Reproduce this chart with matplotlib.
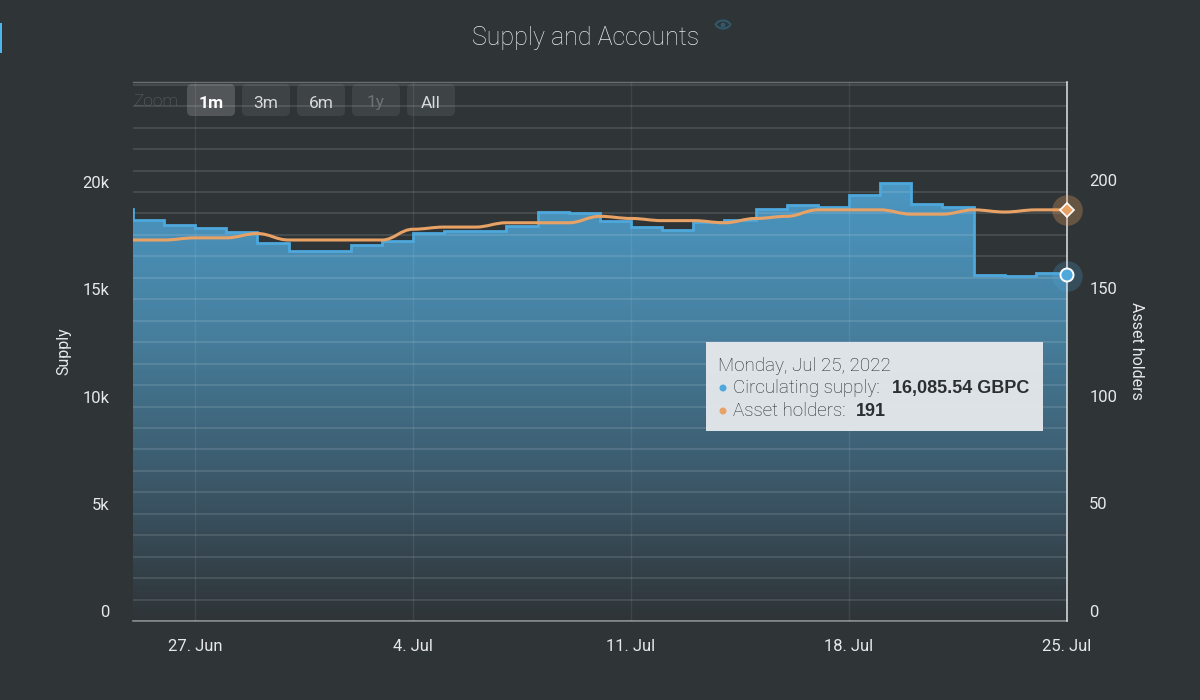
import numpy as np
import pandas as pd
import matplotlib
matplotlib.use('Agg')
import matplotlib.pyplot as plt
import matplotlib.dates as mdates
from matplotlib.colors import LinearSegmentedColormap
from matplotlib.patches import FancyBboxPatch, PathPatch, Rectangle, Circle, Arc
from matplotlib.path import Path
from matplotlib.transforms import ScaledTranslation

# data
start_date = '2022-06-24'
supply = [19200, 18690, 18460, 18320, 18130, 17620, 17250, 17250, 17530, 17720,
          18070, 18180, 18200, 18400, 19070, 19020, 18650, 18370, 18230, 18580,
          18680, 19200, 19400, 19280, 19860, 20430, 19440, 19280, 16140, 16080,
          16220, 16085.54]
holders = [177, 177, 178, 178, 180, 177, 177, 177, 177, 182, 183, 183, 185, 185, 185,
           188, 187, 186, 186, 185, 187, 188, 191, 191, 191, 189, 189, 191, 190, 191, 191]
supply_ticks = [0, 5000, 10000, 15000, 20000]
supply_labels = ['0', '5k', '10k', '15k', '20k']
holder_ticks = [0, 50, 100, 150, 200]
date_ticks = ['2022-06-27', '2022-07-04', '2022-07-11', '2022-07-18', '2022-07-25']
date_labels = ['27. Jun', '4. Jul', '11. Jul', '18. Jul', '25. Jul']
zoom_buttons = ['1m', '3m', '6m', '1y', 'All']

BG = '#2f3437'
BLUE = '#4fa8dc'
ORANGE = '#e9a265'
TEXT = '#e6e8e9'
FONT = 'Roboto'

fig = plt.figure(figsize=(12, 7), dpi=100, facecolor=BG)
L, R, T, B = 132.8, 1067, 82, 621
ax = fig.add_axes([L / 1200, 1 - B / 700, (R - L) / 1200, (B - T) / 700])
ax.set_facecolor(BG)
ax2 = ax.twinx()
ax2.set_zorder(ax.get_zorder() + 1)
ax2.patch.set_visible(False)

dates = pd.date_range(start_date, periods=len(supply))
x_supply = mdates.date2num(dates)
x_holders = x_supply[1:]

# gradient fill under the supply steps
grad = LinearSegmentedColormap.from_list('g', [BG, '#3c5a6c', '#47809f', '#4b97c3'])
im = ax.imshow(np.linspace(1, 0, 256).reshape(-1, 1), cmap=grad, aspect='auto', zorder=1,
               extent=[x_supply[0], x_supply[-1], 0, max(supply)], vmin=0, vmax=1)
ax.set_xlim(mdates.datestr2num('2022-06-25'), mdates.datestr2num('2022-07-25'))
ax.set_ylim(0, 25130)
ax2.set_ylim(0, 250.4)
fill = ax.fill_between(x_supply, supply, 0, step='post', color='none')
im.set_clip_path(fill.get_paths()[0], transform=ax.transData)

# grid on top of the fill
ax.set_yticks(np.arange(0, 26000, 1000), minor=True)
ax.set_yticks(supply_ticks, supply_labels)
ax.set_xticks(mdates.datestr2num(date_ticks), date_labels)
ax.grid(True, axis='y', which='both', color='white', alpha=0.14, lw=1.1, zorder=2)
ax.grid(True, axis='x', color='white', alpha=0.08, lw=1, zorder=2)
ax.set_axisbelow(False)
ax.step(x_supply, supply, where='post', color=BLUE, lw=2.0, zorder=3, solid_joinstyle='miter')

ax2.set_yticks(holder_ticks)
for a in (ax, ax2):
    for s in a.spines.values():
        s.set_visible(False)
    a.tick_params(which='both', length=0, colors=TEXT)
ax.spines['bottom'].set_visible(True)
ax.spines['bottom'].set_color('#7d8183')
ax.spines['bottom'].set_linewidth(1.3)
ax.spines['top'].set_visible(True)
ax.spines['top'].set_color('#6a6e71')
ax.spines['top'].set_linewidth(1.0)
ax2.spines['right'].set_visible(True)
ax2.spines['right'].set_color('#dfe3e6')
ax2.spines['right'].set_linewidth(1.1)

ax.tick_params(axis='y', pad=17)
ax.tick_params(axis='x', pad=13)
ax2.tick_params(axis='y', pad=16)
shift = ScaledTranslation(0, 0.10, fig.dpi_scale_trans)
for lab in ax.get_yticklabels() + ax2.get_yticklabels():
    lab.set_transform(lab.get_transform() + shift)
for lab in ax.get_yticklabels() + ax2.get_yticklabels() + ax.get_xticklabels():
    lab.set_family(FONT)
    lab.set_fontsize(12)

# smooth holders line, control points flat at each day
verts = [(x_holders[0], holders[0])]
codes = [Path.MOVETO]
for i in range(1, len(holders)):
    dx = x_holders[i] - x_holders[i - 1]
    verts += [(x_holders[i - 1] + dx * 0.4, holders[i - 1]),
              (x_holders[i] - dx * 0.4, holders[i]),
              (x_holders[i], holders[i])]
    codes += [Path.CURVE4] * 3
ax2.add_patch(PathPatch(Path(verts, codes), fc='none', ec=ORANGE, lw=2.2, zorder=4, capstyle='round'))

# end markers
ax2.plot(x_holders[-1], holders[-1], 'o', ms=22, color=ORANGE, alpha=0.3, mew=0, clip_on=False, zorder=5)
ax2.plot(x_holders[-1], holders[-1], 'D', ms=7.5, color=ORANGE, mec='white', mew=1.2, clip_on=False, zorder=6)
ax.plot(x_supply[-1], supply[-1], 'o', ms=22, color=BLUE, alpha=0.22, mew=0, clip_on=False, zorder=5)

# pixel overlay for title, buttons and tooltip
ui = fig.add_axes([0, 0, 1, 1], zorder=10)
ui.set_xlim(0, 1200)
ui.set_ylim(700, 0)
ui.axis('off')
ui.patch.set_visible(False)
ui.add_patch(Circle((1067, 275), 6.5, fc=BLUE, ec='white', lw=1.4, zorder=6))

ui.add_patch(Rectangle((0, 23), 2, 30, fc='#4fb3ee', ec='none'))
ui.text(586, 38, 'Supply and Accounts', color=TEXT, fontsize=18, family=FONT, fontweight='light',
        ha='center', va='center')

# eye icon by the title
EYE = '#31596c'
ui.add_patch(Arc((723, 28), 17, 15, theta1=200, theta2=340, ec=EYE, lw=1.5))
ui.add_patch(Arc((723, 21), 17, 15, theta1=30, theta2=150, ec=EYE, lw=1.5))
ui.add_patch(Circle((723, 25), 2.4, fc=EYE, ec='none'))

ui.text(133, 101, 'Zoom', color='#63686b', fontsize=12.5, family=FONT, fontweight='light', va='center')
btn_left = [187, 242, 297, 352, 407]
for name, x0 in zip(zoom_buttons, btn_left):
    active = name == '1m'
    ui.add_patch(FancyBboxPatch((x0 + 3, 87), 42, 26, boxstyle='round,pad=3,rounding_size=5',
                                fc='white', alpha=0.17 if active else 0.075, ec='none'))
    col = 'white' if active else ('#6d7275' if name == '1y' else '#d6d8da')
    ui.text(x0 + 24, 103, name, color=col, fontsize=12.5, family=FONT,
            fontweight='bold' if active else 'normal', ha='center', va='center')

ui.text(64, 351, 'Supply', color=TEXT, fontsize=11.5, family=FONT, rotation=90, ha='center', va='center')
ui.text(1136, 351, 'Asset holders', color=TEXT, fontsize=11.5, family=FONT, rotation=270, ha='center', va='center')

ui.add_patch(Rectangle((706, 342), 337, 89, fc='#e4e8eb', ec='none', alpha=0.96, zorder=7))
TIP = '#24282b'
ui.text(718, 366, 'Monday, Jul 25, 2022', color=TIP, fontsize=13.5, family=FONT, fontweight='light', va='center', zorder=8)
ui.add_patch(Circle((723, 388), 3.5, fc=BLUE, ec='none', zorder=8))
ui.text(733, 388, 'Circulating supply:', color=TIP, fontsize=13.5, family=FONT, fontweight='light', va='center', zorder=8)
ui.text(892, 388, '16,085.54 GBPC', color='#2b2f32', fontsize=13, family='Liberation Sans', fontweight='bold', va='center', zorder=8)
ui.add_patch(Circle((723, 411), 3.5, fc=ORANGE, ec='none', zorder=8))
ui.text(733, 411, 'Asset holders:', color=TIP, fontsize=13.5, family=FONT, fontweight='light', va='center', zorder=8)
ui.text(856, 411, '191', color='#2b2f32', fontsize=13, family='Liberation Sans', fontweight='bold', va='center', zorder=8)

fig.savefig('out.png', dpi=100, facecolor=BG)
